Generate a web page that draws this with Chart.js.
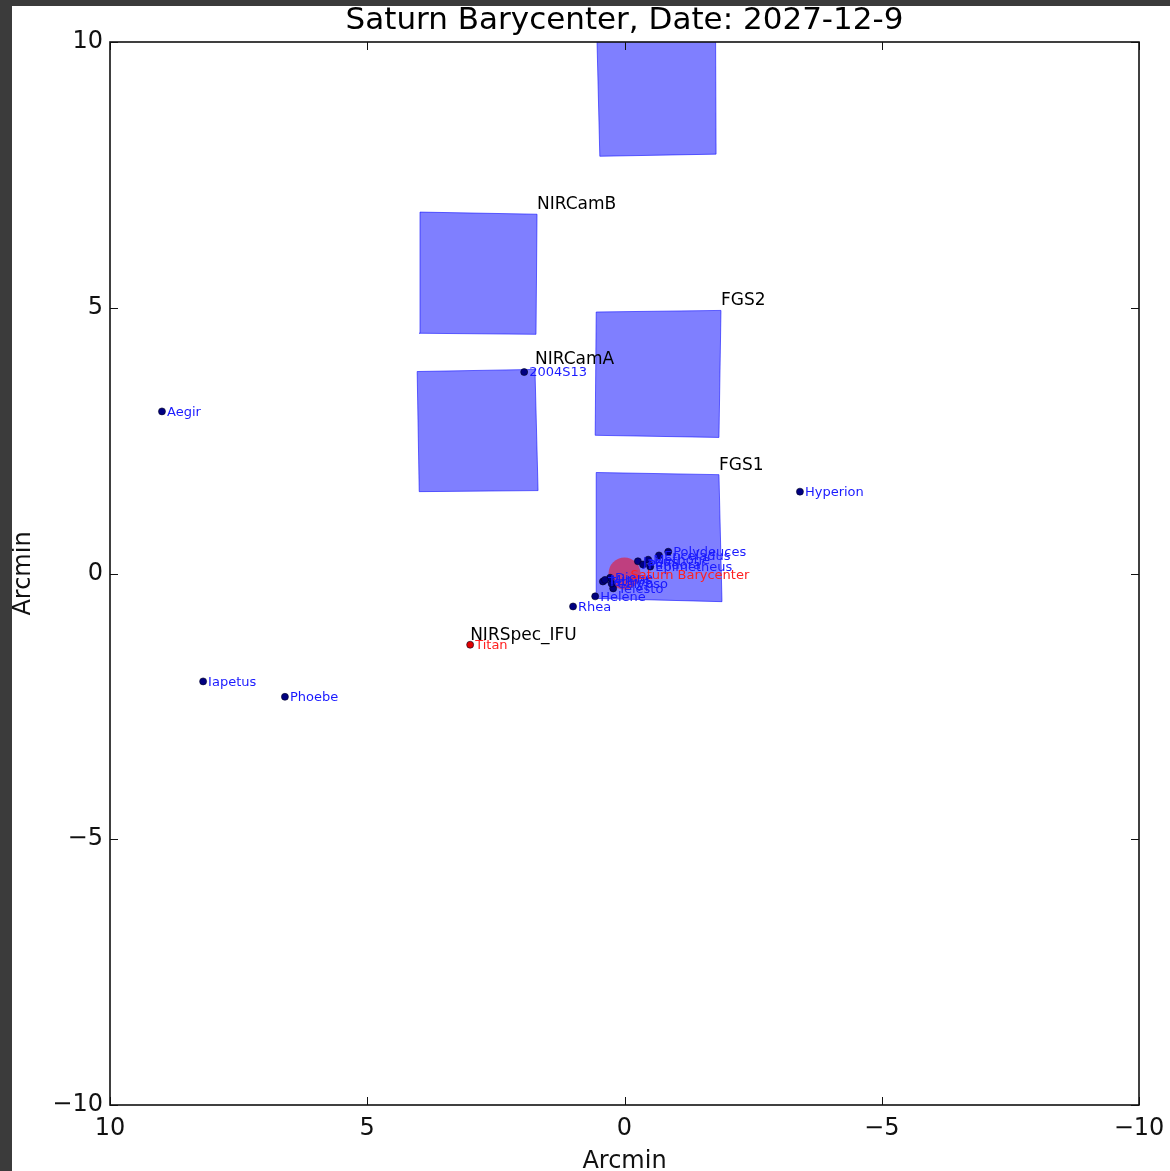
<!DOCTYPE html>
<html>
<head>
<meta charset="utf-8">
<script src="https://cdn.jsdelivr.net/npm/chart.js@4.4.1/dist/chart.umd.min.js"></script>
<style>
  html, body { margin: 0; padding: 0; width: 1170px; height: 1171px; overflow: hidden; background: #3b3b3b; }
  #frame { position: absolute; left: 12px; top: 6px; width: 1158px; height: 1165px; background: #ffffff; }
  canvas { display: block; }
</style>
</head>
<body>
<div id="frame"><canvas id="c" width="1158" height="1165"></canvas></div>
<script>
// ---- Field of view around Saturn (offsets in arcmin) ----
const titleText = 'Saturn Barycenter, Date: 2027-12-9';
const axisTitle = 'Arcmin';
const axisTicks = [10, 5, 0, -5, -10];

// Moons
const moonNames = [
  'Aegir', '2004S13', 'Hyperion', 'Iapetus', 'Phoebe', 'Titan', 'Rhea', 'Helene',
  'Telesto', 'Calypso', 'Dione', 'Tethys', 'Mimas',
  'Polydeuces', 'Enceladus', 'Methone', 'Janus', 'Pandora', 'Epimetheus'
];
const moonX = [
  8.99, 1.95, -3.41, 8.19, 6.60, 3.00, 1.00, 0.57,
  0.22, 0.25, 0.28, 0.42, 0.38,
  -0.85, -0.67, -0.46, -0.26, -0.36, -0.50
];
const moonY = [
  3.05, 3.79, 1.54, -2.03, -2.32, -1.34, -0.62, -0.43,
  -0.28, -0.19, -0.08, -0.15, -0.12,
  0.41, 0.34, 0.26, 0.23, 0.17, 0.13
];
const redMoons = ['Titan'];

// System barycenter
const centerName = 'Saturn Barycenter';
const centerX = [0];
const centerY = [0];

// Instrument apertures: corners in order top-left, top-right, bottom-right, bottom-left
const apertureNames = ['', 'NIRCamB', 'NIRCamA', 'FGS2', 'FGS1'];
const apertureX = [
  [0.54, -1.77, -1.78, 0.48],
  [3.975, 1.70, 1.72, 3.99],
  [4.03, 1.74, 1.68, 3.99],
  [0.55, -1.875, -1.836, 0.57],
  [0.55, -1.836, -1.895, 0.55]
];
const apertureY = [
  [10.25, 10.27, 7.89, 7.85],
  [6.80, 6.76, 4.50, 4.52],
  [3.80, 3.84, 1.56, 1.54],
  [4.92, 4.95, 2.56, 2.60],
  [1.90, 1.86, -0.53, -0.47]
];

// Integral field unit (point-like at this scale)
const ifuName = 'NIRSpec_IFU';
const ifuX = [3.0];
const ifuY = [-1.30];

// ---- helpers ----
const FONT = '"DejaVu Sans", "Liberation Sans", sans-serif';
const fmt = v => (v < 0 ? '\u2212' + Math.abs(v) : String(v));

const apertureDatasets = apertureNames.map((name, i) => {
  const pts = apertureX[i].map((x, k) => ({ x, y: apertureY[i][k] }));
  pts.push(pts[0]);
  return {
    label: name || 'aperture',
    data: pts,
    showLine: true,
    fill: 'shape',
    backgroundColor: 'rgba(0,0,255,0.5)',
    borderColor: 'rgba(0,0,255,0.55)',
    borderWidth: 1,
    pointRadius: 0,
    tension: 0,
    order: 3
  };
});

const moonData = moonNames.map((n, i) => ({ x: moonX[i], y: moonY[i] }));
const moonFill = moonNames.map(n => (redMoons.includes(n) ? '#e00000' : '#000080'));

const datasets = [
  {
    label: 'moons',
    data: moonData,
    pointRadius: 3.5,
    pointBackgroundColor: moonFill,
    pointBorderColor: '#000020',
    pointBorderWidth: 0.6,
    order: 0
  },
  {
    label: centerName,
    data: centerX.map((x, i) => ({ x, y: centerY[i] })),
    pointRadius: 16,
    pointBackgroundColor: 'rgba(255,0,0,0.5)',
    pointBorderColor: 'rgba(255,0,0,0.5)',
    pointBorderWidth: 0,
    order: 1
  },
  ...apertureDatasets
];

// Frame, inward tick marks, annotations and title
const decorations = {
  id: 'decorations',
  afterDatasetsDraw(chart) {
    const { ctx, chartArea: a, scales: { x, y } } = chart;
    ctx.save();
    ctx.beginPath();
    ctx.rect(a.left, a.top, a.right - a.left, a.bottom - a.top);
    ctx.clip();

    // moon labels
    ctx.font = '13px ' + FONT;
    ctx.textAlign = 'left';
    ctx.textBaseline = 'middle';
    moonNames.forEach((n, i) => {
      ctx.fillStyle = redMoons.includes(n) ? '#ff2020' : '#1a1aff';
      ctx.fillText(n, x.getPixelForValue(moonX[i]) + 5, y.getPixelForValue(moonY[i]) + 1);
    });
    ctx.fillStyle = '#ff2020';
    ctx.fillText(centerName, x.getPixelForValue(centerX[0]) + 6, y.getPixelForValue(centerY[0]) + 2);

    // aperture labels at each top-right corner
    ctx.font = '17px ' + FONT;
    ctx.fillStyle = '#000';
    ctx.textBaseline = 'bottom';
    apertureNames.forEach((n, i) => {
      if (!n) return;
      ctx.fillText(n, x.getPixelForValue(apertureX[i][1]), y.getPixelForValue(apertureY[i][1]) - 1);
    });
    ctx.fillText(ifuName, x.getPixelForValue(ifuX[0]), y.getPixelForValue(ifuY[0]) + 1);
    ctx.restore();

    // axes frame
    ctx.save();
    ctx.strokeStyle = '#111';
    ctx.lineWidth = 1.6;
    ctx.strokeRect(a.left, a.top, a.right - a.left, a.bottom - a.top);
    ctx.lineWidth = 1;
    const L = 8;
    ctx.beginPath();
    axisTicks.forEach(v => {
      const px = Math.round(x.getPixelForValue(v)) + 0.5;
      ctx.moveTo(px, a.bottom); ctx.lineTo(px, a.bottom - L);
      ctx.moveTo(px, a.top); ctx.lineTo(px, a.top + L);
      const py = Math.round(y.getPixelForValue(v)) + 0.5;
      ctx.moveTo(a.left, py); ctx.lineTo(a.left + L, py);
      ctx.moveTo(a.right, py); ctx.lineTo(a.right - L, py);
    });
    ctx.stroke();

    // title
    ctx.fillStyle = '#000';
    ctx.font = '31px ' + FONT;
    ctx.textAlign = 'center';
    ctx.textBaseline = 'middle';
    ctx.fillText(titleText, (a.left + a.right) / 2, 15);
    ctx.restore();
  }
};

const tickFont = { family: FONT, size: 24 };
const titleFont = { family: FONT, size: 24, lineHeight: 1 };

new Chart(document.getElementById('c'), {
  type: 'scatter',
  data: { datasets },
  options: {
    responsive: false,
    animation: false,
    layout: { padding: { top: 36, right: 31, left: 0, bottom: 0 } },
    plugins: { legend: { display: false }, tooltip: { enabled: false }, title: { display: false } },
    scales: {
      x: {
        type: 'linear',
        reverse: true,
        min: -10,
        max: 10,
        afterBuildTicks: s => { s.ticks = axisTicks.map(v => ({ value: v })); },
        afterFit: s => { s.height = 66; s.paddingLeft = 0; s.paddingRight = 0; },
        grid: { display: false, drawTicks: false },
        border: { display: false },
        ticks: { font: tickFont, color: '#111', padding: 9, maxRotation: 0, autoSkip: false, callback: fmt },
        title: { display: true, text: axisTitle, font: titleFont, color: '#111', padding: { top: 0, bottom: -3 } }
      },
      y: {
        type: 'linear',
        min: -10,
        max: 10,
        afterBuildTicks: s => { s.ticks = axisTicks.map(v => ({ value: v })); },
        afterFit: s => { s.width = 98; s.paddingTop = 0; s.paddingBottom = 0; },
        grid: { display: false, drawTicks: false },
        border: { display: false },
        ticks: { font: tickFont, color: '#111', padding: 7, autoSkip: false, callback: fmt },
        title: { display: true, text: axisTitle, font: titleFont, color: '#111', padding: 0 }
      }
    }
  },
  plugins: [decorations]
});
</script>
</body>
</html>
